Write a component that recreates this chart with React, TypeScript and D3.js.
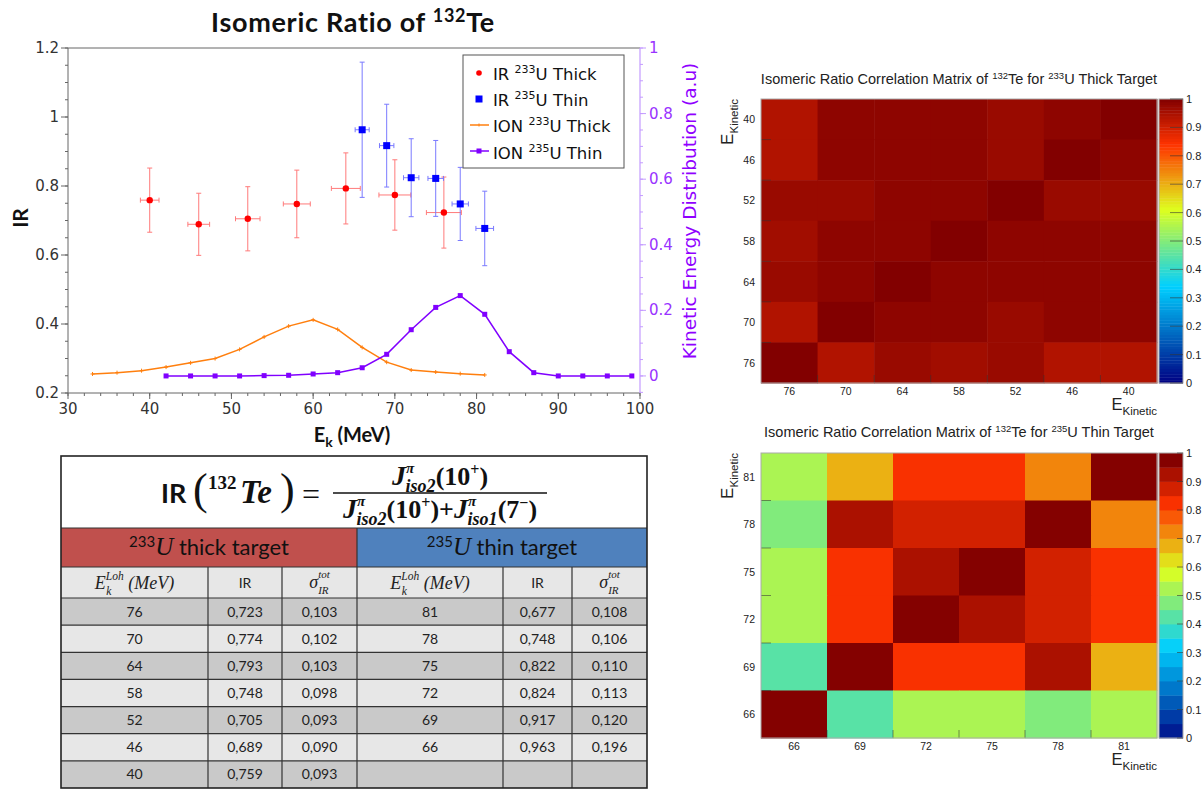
import React from 'react';
import * as d3 from 'd3';

// ---------------- DATA ----------------
// Isomeric ratio, 233U thick target
const irThickE = [40, 46, 52, 58, 64, 70, 76];
const irThickVal = [0.759, 0.689, 0.705, 0.748, 0.793, 0.774, 0.723];
const irThickErr = [0.093, 0.09, 0.093, 0.098, 0.103, 0.102, 0.103];
const irThickXErr = [1.14, 1.33, 1.5, 1.65, 1.77, 1.95, 2.14];

// Isomeric ratio, 235U thin target
const irThinE = [66, 69, 72, 75, 78, 81];
const irThinVal = [0.963, 0.917, 0.824, 0.822, 0.748, 0.677];
const irThinErr = [0.196, 0.12, 0.113, 0.11, 0.106, 0.108];
const irThinXErr = [0.86, 0.88, 0.94, 0.95, 1.0, 1.08];

// Ion kinetic energy distributions (right axis)
const ionThickE = [33, 36, 39, 42, 45, 48, 51, 54, 57, 60, 63, 66, 69, 72, 75, 78, 81];
const ionThickVal = [0.006, 0.01, 0.016, 0.027, 0.04, 0.053, 0.081, 0.119, 0.152, 0.171, 0.142, 0.087, 0.042, 0.018, 0.012, 0.007, 0.003];
const ionThinE = [42, 45, 48, 51, 54, 57, 60, 63, 66, 69, 72, 75, 78, 81, 84, 87, 90, 93, 96, 99];
const ionThinVal = [0, 0, 0, 0, 0.001, 0.002, 0.006, 0.01, 0.025, 0.066, 0.141, 0.209, 0.245, 0.188, 0.074, 0.01, 0, 0, 0, 0];

// Axis ticks
const xTicks = [30, 40, 50, 60, 70, 80, 90, 100];
const yLeftTicks = [0.2, 0.4, 0.6, 0.8, 1, 1.2];
const yRightTicks = [0, 0.2, 0.4, 0.6, 0.8, 1];
const cbTicks = [0, 0.1, 0.2, 0.3, 0.4, 0.5, 0.6, 0.7, 0.8, 0.9, 1];

// Correlation matrices (symmetric)
const corrThickE = [40, 46, 52, 58, 64, 70, 76];
const corrThick = [
  [1, 0.985, 0.97, 0.985, 0.985, 0.985, 0.94],
  [0.985, 1, 0.97, 0.985, 0.985, 0.985, 0.94],
  [0.97, 0.97, 1, 0.985, 0.985, 0.97, 0.97],
  [0.985, 0.985, 0.985, 1, 0.985, 0.985, 0.96],
  [0.985, 0.985, 0.985, 0.985, 1, 0.985, 0.97],
  [0.985, 0.985, 0.97, 0.985, 0.985, 1, 0.94],
  [0.94, 0.94, 0.97, 0.96, 0.97, 0.94, 1],
];
const corrThickCols = [76, 70, 64, 58, 52, 46, 40];
const corrThickRows = [40, 46, 52, 58, 64, 70, 76];

const corrThinE = [66, 69, 72, 75, 78, 81];
const corrThin = [
  [1, 0.43, 0.53, 0.53, 0.48, 0.53],
  [0.43, 1, 0.82, 0.82, 0.92, 0.67],
  [0.53, 0.82, 1, 0.92, 0.87, 0.82],
  [0.53, 0.82, 0.92, 1, 0.87, 0.82],
  [0.48, 0.92, 0.87, 0.87, 1, 0.72],
  [0.53, 0.67, 0.82, 0.82, 0.72, 1],
];
const corrThinCols = [66, 69, 72, 75, 78, 81];
const corrThinRows = [81, 78, 75, 72, 69, 66];

// Palette (ROOT rainbow)
const paletteStops = [0, 0.34, 0.61, 0.84, 1];
const paletteColors = ['#000082', '#00cfff', '#deff1f', '#ff3300', '#820000'];

// ---------------- STYLE ----------------
const SANS = "'DejaVu Sans', sans-serif";
const LATO = "Lato, 'Open Sans', sans-serif";
const SERIF = "'Liberation Serif', serif";
const ARIAL = "'Liberation Sans', Arial, sans-serif";

const palette = d3
  .scaleLinear<string>()
  .domain(paletteStops)
  .range(paletteColors)
  .interpolate(d3.interpolateRgb)
  .clamp(true);

const fmtComma = (v: number) => d3.format('.3f')(v).replace('.', ',');

// ---------------- MAIN CHART ----------------
function MainChart() {
  const X0 = 68, X1 = 640, Y0 = 393, Y1 = 48;
  const x = d3.scaleLinear().domain([30, 100]).range([X0, X1]);
  const yL = d3.scaleLinear().domain([0.2, 1.2]).range([Y0, Y1]);
  const yR = d3.scaleLinear().domain([-0.052, 1]).range([Y0, Y1]);
  const axisCol = '#666';
  const purpleAxis = '#c49bff';
  const purpleText = '#9933ff';
  const orange = '#ff7f0e';
  const purple = '#8000ff';

  const xMinor = d3.range(30, 100.001, 2);
  const yLMinor = d3.range(0.2, 1.2001, 0.05);
  const yRMinor = d3.range(-0.05, 1.0001, 0.05);

  const lineThick = d3
    .line<number>()
    .x((_, i) => x(ionThickE[i]))
    .y((d) => yR(d));
  const lineThin = d3
    .line<number>()
    .x((_, i) => x(ionThinE[i]))
    .y((d) => yR(d));

  const errBar = (
    xs: number[], vs: number[], es: number[], xes: number[], col: string, key: string
  ) =>
    xs.map((e, i) => {
      const cx = x(e), cy = yL(vs[i]);
      const top = yL(vs[i] + es[i]), bot = yL(vs[i] - es[i]);
      const l = x(e - xes[i]), r = x(e + xes[i]);
      return (
        <g key={key + i} stroke={col} strokeWidth={1}>
          <line x1={cx} x2={cx} y1={top} y2={bot} />
          <line x1={cx - 2.5} x2={cx + 2.5} y1={top} y2={top} />
          <line x1={cx - 2.5} x2={cx + 2.5} y1={bot} y2={bot} />
          <line x1={l} x2={r} y1={cy} y2={cy} />
          <line x1={l} x2={l} y1={cy - 2.5} y2={cy + 2.5} />
          <line x1={r} x2={r} y1={cy - 2.5} y2={cy + 2.5} />
        </g>
      );
    });

  return (
    <g>
      {/* Title */}
      <text x={353} y={32} textAnchor="middle" fontFamily={LATO} fontWeight={700} fontSize={27} letterSpacing={0.7} fill="#111">
        Isomeric Ratio of <tspan fontSize={18} dy={-10}>132</tspan>
        <tspan dy={10}>Te</tspan>
      </text>

      {/* frame */}
      <line x1={X0} x2={X1} y1={Y1} y2={Y1} stroke={axisCol} strokeWidth={1} />
      <line x1={X0} x2={X0} y1={Y1} y2={Y0} stroke={axisCol} strokeWidth={1} />
      <line x1={X0} x2={X1} y1={Y0} y2={Y0} stroke={axisCol} strokeWidth={1} />
      <line x1={X1} x2={X1} y1={Y1} y2={Y0} stroke={purpleAxis} strokeWidth={1.2} />

      {/* x ticks */}
      {xMinor.map((t, i) => (
        <line key={'xm' + i} x1={x(t)} x2={x(t)} y1={Y0} y2={Y0 + 3} stroke={axisCol} />
      ))}
      {xTicks.map((t) => (
        <g key={'xt' + t}>
          <line x1={x(t)} x2={x(t)} y1={Y0} y2={Y0 + 6} stroke={axisCol} />
          <text x={x(t)} y={Y0 + 21} textAnchor="middle" fontFamily={SANS} fontSize={15} fill="#333">
            {t}
          </text>
        </g>
      ))}
      {/* left ticks */}
      {yLMinor.map((t, i) => (
        <line key={'ylm' + i} x1={X0 - 3} x2={X0} y1={yL(t)} y2={yL(t)} stroke={axisCol} />
      ))}
      {yLeftTicks.map((t) => (
        <g key={'yl' + t}>
          <line x1={X0 - 7} x2={X0} y1={yL(t)} y2={yL(t)} stroke={axisCol} />
          <text x={X0 - 9} y={yL(t) + 5} textAnchor="end" fontFamily={SANS} fontSize={15} fill="#333">
            {d3.format('~g')(t)}
          </text>
        </g>
      ))}
      {/* right ticks */}
      {yRMinor.map((t, i) => (
        <line key={'yrm' + i} x1={X1} x2={X1 + 3} y1={yR(t)} y2={yR(t)} stroke={purpleAxis} />
      ))}
      {yRightTicks.map((t) => (
        <g key={'yr' + t}>
          <line x1={X1} x2={X1 + 6} y1={yR(t)} y2={yR(t)} stroke={purpleAxis} />
          <text x={X1 + 9} y={yR(t) + 5} textAnchor="start" fontFamily={SANS} fontSize={15} fill={purpleText}>
            {d3.format('~g')(t)}
          </text>
        </g>
      ))}

      {/* axis titles */}
      <text x={352} y={442} textAnchor="middle" fontFamily={LATO} fontWeight={700} fontSize={20} fill="#111">
        E<tspan fontSize={14} dy={5}>k</tspan>
        <tspan dy={-5}> (MeV)</tspan>
      </text>
      <text transform="translate(28,218) rotate(-90)" textAnchor="middle" fontFamily={LATO} fontWeight={700} fontSize={21} fill="#111">
        IR
      </text>
      <text transform="translate(696,211) rotate(-90)" textAnchor="middle" fontFamily={SANS} fontSize={18.5} fill="#9000ff">
        Kinetic Energy Distribution (a.u)
      </text>

      {/* ion lines */}
      <path d={lineThick(ionThickVal) || ''} fill="none" stroke={orange} strokeWidth={1.5} />
      {ionThickVal.map((v, i) => (
        <g key={'ot' + i} stroke={orange} strokeWidth={1}>
          <line x1={x(ionThickE[i]) - 2} x2={x(ionThickE[i]) + 2} y1={yR(v)} y2={yR(v)} />
          <line x1={x(ionThickE[i])} x2={x(ionThickE[i])} y1={yR(v) - 2} y2={yR(v) + 2} />
        </g>
      ))}
      <path d={lineThin(ionThinVal) || ''} fill="none" stroke={purple} strokeWidth={1.5} />
      {ionThinVal.map((v, i) => (
        <rect key={'pt' + i} x={x(ionThinE[i]) - 2.5} y={yR(v) - 2.5} width={5} height={5} fill={purple} />
      ))}

      {/* IR error bars and points */}
      {errBar(irThickE, irThickVal, irThickErr, irThickXErr, '#ff7a7a', 'rt')}
      {errBar(irThinE, irThinVal, irThinErr, irThinXErr, '#7a7aff', 'bt')}
      {irThickE.map((e, i) => (
        <circle key={'rc' + i} cx={x(e)} cy={yL(irThickVal[i])} r={3.2} fill="#ff0000" />
      ))}
      {irThinE.map((e, i) => (
        <rect key={'bc' + i} x={x(e) - 3.5} y={yL(irThinVal[i]) - 3.5} width={7} height={7} fill="#0000ff" />
      ))}

      {/* legend */}
      <rect x={463} y={55} width={161} height={113} fill="#fff" stroke="#555" strokeWidth={1} />
      <circle cx={479} cy={73} r={2.8} fill="#ff0000" />
      <rect x={475.5} y={95.5} width={7} height={7} fill="#0000ff" />
      <line x1={470} x2={489} y1={125} y2={125} stroke={orange} strokeWidth={1.5} />
      <line x1={479} x2={479} y1={123.5} y2={126.5} stroke={orange} />
      <line x1={470} x2={489} y1={151} y2={151} stroke={purple} strokeWidth={1.5} />
      <rect x={476.5} y={148.5} width={5} height={5} fill={purple} />
      {[
        ['IR ', '233', 'U Thick'],
        ['IR ', '235', 'U Thin'],
        ['ION ', '233', 'U Thick'],
        ['ION ', '235', 'U Thin'],
      ].map((t, i) => (
        <text key={'lg' + i} x={493} y={80 + i * 26.2} fontFamily={SANS} fontSize={16.5} fill="#111">
          {t[0]}
          <tspan fontSize={11} dy={-7}>{t[1]}</tspan>
          <tspan dy={7}>{t[2]}</tspan>
        </text>
      ))}
    </g>
  );
}

// ---------------- TABLE ----------------
function Table() {
  const colX = [61, 208, 282, 357, 503, 572, 647];
  const tTop = 456, tFormB = 528, tHeadB = 567, tColB = 598, tBot = 788;
  const nRows = 7;
  const rowY = d3.scaleLinear().domain([0, nRows]).range([tColB, tBot]);
  const thickRows = irThickE.map((e, i) => ({ e, v: irThickVal[i], s: irThickErr[i] })).reverse();
  const thinRows = irThinE.map((e, i) => ({ e, v: irThinVal[i], s: irThinErr[i] })).reverse();
  const dark = '#c9c9c9', light = '#e7e7e7';
  const mid = (a: number, b: number) => (a + b) / 2;

  const jpiTspans = (sub: string, val: string, sign: string) => [
    <tspan key={sub + 'J'} fontStyle="italic" fontSize={28}>J</tspan>,
    <tspan key={sub + 'p'} fontStyle="italic" fontSize={15} dy={-12}>π</tspan>,
    <tspan key={sub + 's'} fontStyle="italic" fontSize={18} dx={-8.5} dy={19}>{sub}</tspan>,
    <tspan key={sub + 'o'} fontSize={26} dy={-7}>({val}</tspan>,
    <tspan key={sub + 'g'} fontSize={16} dy={-10}>{sign}</tspan>,
    <tspan key={sub + 'c'} fontSize={26} dy={10}>)</tspan>,
  ];

  return (
    <g>
      {/* backgrounds */}
      <rect x={colX[0]} y={tTop} width={colX[6] - colX[0]} height={tFormB - tTop} fill="#fff" />
      <rect x={colX[0]} y={tFormB} width={colX[3] - colX[0]} height={tHeadB - tFormB} fill="#c0504d" />
      <rect x={colX[3]} y={tFormB} width={colX[6] - colX[3]} height={tHeadB - tFormB} fill="#4f81bd" />
      <rect x={colX[0]} y={tHeadB} width={colX[6] - colX[0]} height={tColB - tHeadB} fill={light} />
      {d3.range(nRows).map((r) => (
        <rect key={'rb' + r} x={colX[0]} y={rowY(r)} width={colX[6] - colX[0]} height={rowY(r + 1) - rowY(r)} fill={r % 2 === 0 ? dark : light} />
      ))}

      {/* Formula */}
      <text x={161} y={503} fontFamily={LATO} fontWeight={700} fontSize={27} fill="#111">IR</text>
      <text x={193} y={504} fontFamily={SERIF} fontSize={44} fill="#111">(</text>
      <text x={208} y={489} fontFamily={SERIF} fontWeight={700} fontSize={19} fill="#111">132</text>
      <text x={240} y={503} fontFamily={SERIF} fontWeight={700} fontStyle="italic" fontSize={33} fill="#111">Te</text>
      <text x={280} y={504} fontFamily={SERIF} fontSize={44} fill="#111">)</text>
      <text x={302} y={505} fontFamily={SERIF} fontSize={32} fill="#111">=</text>
      <line x1={333} x2={547} y1={493} y2={493} stroke="#111" strokeWidth={1.6} />
      <text x={440} y={485} textAnchor="middle" fontFamily={SERIF} fontWeight={700} fill="#111">
        {jpiTspans('iso2', '10', '+')}
      </text>
      <text x={440} y={518} textAnchor="middle" fontFamily={SERIF} fontWeight={700} fill="#111">
        {jpiTspans('iso2', '10', '+')}
        <tspan fontSize={26}>+</tspan>
        {jpiTspans('iso1', '7', '−')}
      </text>

      {/* target headers */}
      <text x={mid(colX[0], colX[3])} y={555} textAnchor="middle" fontFamily={LATO} fontSize={22} fill="#111">
        <tspan fontSize={15} dy={-8}>233</tspan>
        <tspan fontFamily={SERIF} fontStyle="italic" fontSize={25} dy={8}>U</tspan> thick target
      </text>
      <text x={mid(colX[3], colX[6])} y={555} textAnchor="middle" fontFamily={LATO} fontSize={22} fill="#111">
        <tspan fontSize={15} dy={-8}>235</tspan>
        <tspan fontFamily={SERIF} fontStyle="italic" fontSize={25} dy={8}>U</tspan> thin target
      </text>

      {/* column headers */}
      {[0, 3].map((c) => (
        <g key={'hdr' + c}>
          <text x={mid(colX[c], colX[c + 1])} y={589} textAnchor="middle" fontFamily={SERIF} fontStyle="italic" fontSize={18} fill="#222">
            E<tspan fontSize={11.5} dy={-9}>Loh</tspan>
            <tspan fontSize={11.5} dx={-17.5} dy={15}>k</tspan>
            <tspan dx={12.5} dy={-6}> (MeV)</tspan>
          </text>
          <text x={mid(colX[c + 1], colX[c + 2])} y={588} textAnchor="middle" fontFamily={LATO} fontSize={14} fill="#222">IR</text>
          <text x={mid(colX[c + 2], colX[c + 3])} y={588} textAnchor="middle" fontFamily={SERIF} fontStyle="italic" fontSize={18} fill="#222">
            σ<tspan fontSize={11} dy={-10}>tot</tspan>
            <tspan fontSize={11} dx={-11.6} dy={16}>IR</tspan>
          </text>
        </g>
      ))}

      {/* data cells */}
      {thickRows.map((r, i) => (
        <g key={'tr' + i} fontFamily={LATO} fontSize={14} fill="#222" textAnchor="middle">
          <text x={mid(colX[0], colX[1])} y={mid(rowY(i), rowY(i + 1)) + 5}>{r.e}</text>
          <text x={mid(colX[1], colX[2])} y={mid(rowY(i), rowY(i + 1)) + 5}>{fmtComma(r.v)}</text>
          <text x={mid(colX[2], colX[3])} y={mid(rowY(i), rowY(i + 1)) + 5}>{fmtComma(r.s)}</text>
        </g>
      ))}
      {thinRows.map((r, i) => (
        <g key={'nr' + i} fontFamily={LATO} fontSize={14} fill="#222" textAnchor="middle">
          <text x={mid(colX[3], colX[4])} y={mid(rowY(i), rowY(i + 1)) + 5}>{r.e}</text>
          <text x={mid(colX[4], colX[5])} y={mid(rowY(i), rowY(i + 1)) + 5}>{fmtComma(r.v)}</text>
          <text x={mid(colX[5], colX[6])} y={mid(rowY(i), rowY(i + 1)) + 5}>{fmtComma(r.s)}</text>
        </g>
      ))}

      {/* grid lines */}
      <g stroke="#333" strokeWidth={1.2}>
        <line x1={colX[0]} x2={colX[6]} y1={tFormB} y2={tFormB} />
        <line x1={colX[0]} x2={colX[6]} y1={tHeadB} y2={tHeadB} />
        {d3.range(nRows).map((r) => (
          <line key={'hl' + r} x1={colX[0]} x2={colX[6]} y1={rowY(r)} y2={rowY(r)} />
        ))}
        {colX.slice(1, 6).map((cx, i) => (
          <line key={'vl' + i} x1={cx} x2={cx} y1={i === 2 ? tFormB : tHeadB} y2={tBot} />
        ))}
      </g>
      <rect x={colX[0]} y={tTop} width={colX[6] - colX[0]} height={tBot - tTop} fill="none" stroke="#222" strokeWidth={1.6} />
    </g>
  );
}

// ---------------- HEATMAP ----------------
type HMProps = {
  rows: number[];
  cols: number[];
  matE: number[];
  mat: number[][];
  l: number; r: number; t: number; b: number;
  titleY: number;
  target: string;
  targetName: string;
  discrete: boolean;
  cbTick: number;
};

function Heatmap(p: HMProps) {
  const xs = d3.scaleBand<number>().domain(p.cols).range([p.l, p.r]);
  const ys = d3.scaleBand<number>().domain(p.rows).range([p.t, p.b]);
  const cb = d3.scaleLinear().domain([0, 1]).range([p.b, p.t]);
  const val = (re: number, ce: number) => p.mat[p.matE.indexOf(re)][p.matE.indexOf(ce)];
  const nLev = 20;
  const bandIdx = (v: number) => Math.min(nLev - 1, Math.floor(v * nLev + 1e-9));
  const bandColor = (i: number) => palette((i + 0.95) / nLev);
  const col = (v: number) => (p.discrete ? bandColor(bandIdx(v)) : palette(v));
  const cbL = p.r + 2, cbR = p.r + 26;
  const nCb = p.discrete ? nLev : 100;
  const cbSteps = d3.range(nCb);

  return (
    <g>
      <text x={(p.l + p.r) / 2} y={p.titleY} textAnchor="middle" fontFamily={ARIAL} fontSize={14.5} fill="#222">
        Isomeric Ratio Correlation Matrix of <tspan fontSize={9.5} dy={-5}>132</tspan>
        <tspan dy={5}>Te for </tspan>
        <tspan fontSize={9.5} dy={-5}>{p.target}</tspan>
        <tspan dy={5}>U {p.targetName} Target</tspan>
      </text>
      {p.rows.map((re) =>
        p.cols.map((ce) => (
          <rect key={re + '_' + ce} x={xs(ce)} y={ys(re)} width={xs.bandwidth() + 0.5} height={ys.bandwidth() + 0.5} fill={col(val(re, ce))} />
        ))
      )}
      {/* bin-edge ticks */}
      <g stroke="#333" strokeOpacity={0.55}>
        {p.rows.slice(1).map((re) => (
          <line key={'lt' + re} x1={p.l} x2={p.l + 10} y1={ys(re)} y2={ys(re)} />
        ))}
        {p.cols.slice(1).map((ce) => (
          <line key={'bt' + ce} x1={xs(ce)} x2={xs(ce)} y1={p.b} y2={p.b - 8} />
        ))}
      </g>
      <rect x={p.l} y={p.t} width={p.r - p.l} height={p.b - p.t} fill="none" stroke="#aaa" strokeWidth={1} />
      {/* labels */}
      {p.cols.map((ce) => (
        <text key={'cl' + ce} x={(xs(ce) || 0) + xs.bandwidth() / 2} y={p.b + 12} textAnchor="middle" fontFamily={ARIAL} fontSize={10.5} fill="#222">
          {ce}
        </text>
      ))}
      {p.rows.map((re) => (
        <text key={'rl' + re} x={755} y={(ys(re) || 0) + ys.bandwidth() / 2 + 4} textAnchor="end" fontFamily={ARIAL} fontSize={10.5} fill="#222">
          {re}
        </text>
      ))}
      <text x={p.r} y={p.b + 27} textAnchor="end" fontFamily={ARIAL} fontSize={16.5} fill="#222">
        E<tspan fontSize={11.5} dy={5}>Kinetic</tspan>
      </text>
      <text transform={`translate(733,${p.t}) rotate(-90)`} textAnchor="end" fontFamily={ARIAL} fontSize={17} fill="#222">
        E<tspan fontSize={11.5} dy={5}>Kinetic</tspan>
      </text>
      {/* colour bar */}
      {cbSteps.map((i) => (
        <rect key={'cb' + i} x={cbL} y={cb((i + 1) / nCb)} width={cbR - cbL} height={cb(i / nCb) - cb((i + 1) / nCb) + 0.4}
          fill={p.discrete ? bandColor(i) : palette((i + 0.5) / nCb)} />
      ))}
      <rect x={cbL} y={p.t} width={cbR - cbL} height={p.b - p.t} fill="none" stroke="#aaa" strokeWidth={1} />
      {cbTicks.map((t) => (
        <g key={'cbt' + t}>
          <line x1={cbR - p.cbTick} x2={cbR} y1={cb(t)} y2={cb(t)} stroke="#333" strokeOpacity={0.6} />
          <text x={cbR + 3} y={cb(t) + 4} fontFamily={ARIAL} fontSize={11} fill="#222">
            {d3.format('~g')(t)}
          </text>
        </g>
      ))}
    </g>
  );
}

export default function App() {
  return (
    <svg width={1203} height={790} style={{ position: 'absolute', left: 0, top: 0, background: '#fff', display: 'block' }}>
      <rect x={0} y={0} width={1203} height={790} fill="#fff" />
      <MainChart />
      <Table />
      <Heatmap rows={corrThickRows} cols={corrThickCols} matE={corrThickE} mat={corrThick}
        l={761} r={1157} t={99} b={383} titleY={84} target="233" targetName="Thick" discrete={false} cbTick={13} />
      <Heatmap rows={corrThinRows} cols={corrThinCols} matE={corrThinE} mat={corrThin}
        l={761} r={1157} t={453} b={738} titleY={437} target="235" targetName="Thin" discrete={true} cbTick={6} />
    </svg>
  );
}
